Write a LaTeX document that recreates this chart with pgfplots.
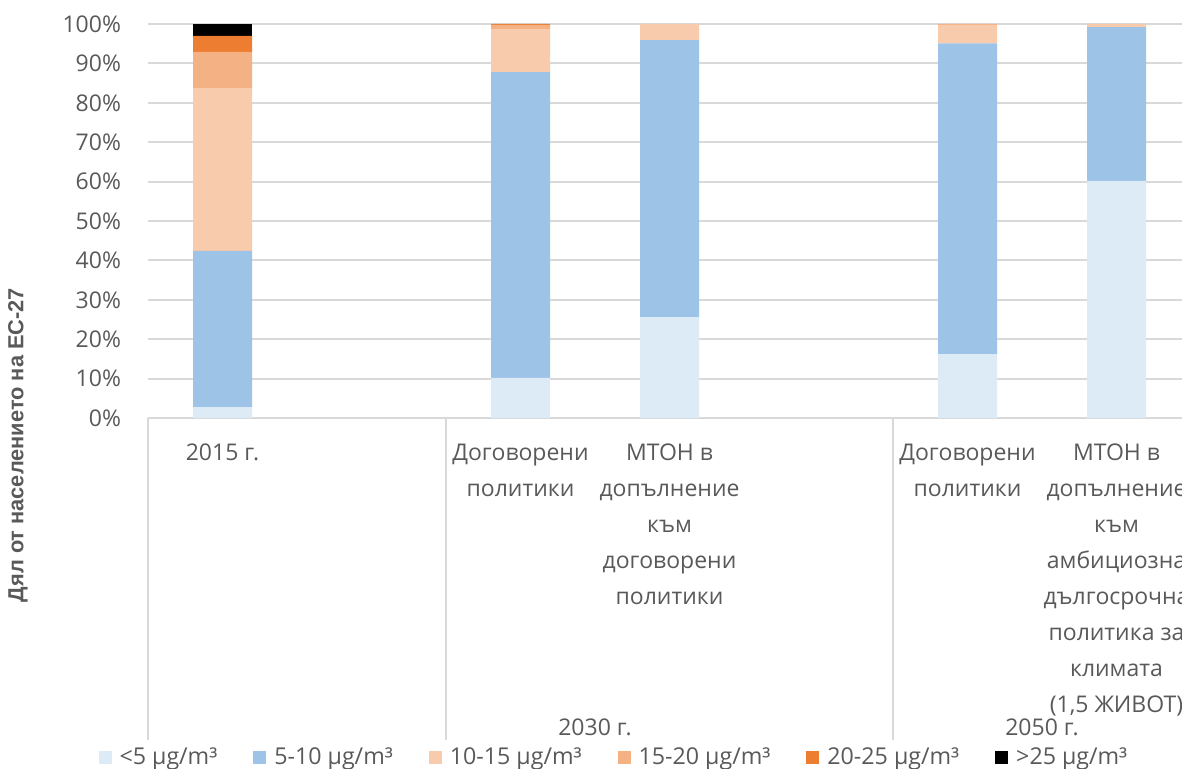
\documentclass[border=0pt]{standalone}
\usepackage{pgfplots}
\pgfplotsset{compat=1.18}
\usepackage{fontspec}
\setmainfont{Open Sans}
\newfontfamily\labfont{Liberation Sans}
\definecolor{cA}{HTML}{DDEBF7}
\definecolor{cB}{HTML}{9DC3E6}
\definecolor{cC}{HTML}{F8CBAD}
\definecolor{cD}{HTML}{F4B183}
\definecolor{cE}{HTML}{ED7D31}
\definecolor{cF}{HTML}{000000}
\definecolor{gridc}{HTML}{D9D9D9}
\definecolor{txt}{HTML}{595959}
\begin{document}
\begin{tikzpicture}
\begin{axis}[
  at={(74pt,175.5pt)}, anchor=south west,
  scale only axis, width=521.5pt, height=197pt,
  xmin=-0.5, xmax=6.5, ymin=0, ymax=100,
  ybar stacked, bar width=29.5pt,
  clip=false,
  axis x line*=bottom, axis y line*=left,
  y axis line style={draw=none},
  x axis line style={draw=gridc, line width=1pt, -},
  ymajorgrids, grid style={draw=gridc, line width=1pt},
  ytick={0,10,...,100},
  yticklabel={\pgfmathprintnumber{\tick}\%},
  /pgf/number format/assume math mode=true,
  yticklabel style={font=\fontsize{11.5}{13}\selectfont, text=txt, xshift=-10pt},
  xtick={0,2,3,5,6},
  xticklabels={{2015 г.},{Договорени\\политики},{МТОН в\\допълнение\\към\\договорени\\политики},{Договорени\\политики},{МТОН в\\допълнение\\към\\амбициозна\\дългосрочна\\политика за\\климата\\(1,5 ЖИВОТ)}},
  xticklabel style={font=\fontsize{11.5}{18}\selectfont, text=txt, align=center, anchor=north, yshift=-9.5pt},
  tick style={draw=none}, major tick length=0pt,
  legend columns=6,
  legend style={draw=none, at={(0.4477,-0.862)}, anchor=center,
    font=\fontsize{11.6}{13}\selectfont, text=txt,
    /tikz/every odd column/.append style={column sep=2pt},
    /tikz/every even column/.append style={column sep=16pt}},
  legend image code/.code={\fill[#1] (0pt,-3.25pt) rectangle (6.5pt,3.25pt);},
]
\addplot[fill=cA, draw=none] coordinates {(0,2.7) (2,10.2) (3,25.6) (5,16.2) (6,60.2)};
\addplot[fill=cB, draw=none] coordinates {(0,39.7) (2,77.6) (3,70.3) (5,78.9) (6,39.0)};
\addplot[fill=cC, draw=none] coordinates {(0,41.4) (2,10.9) (3,4.1) (5,4.7) (6,0.8)};
\addplot[fill=cD, draw=none] coordinates {(0,9.1) (2,1.1) (3,0) (5,0.2) (6,0)};
\addplot[fill=cE, draw=none] coordinates {(0,4.1) (2,0.2) (3,0) (5,0) (6,0)};
\addplot[fill=cF, draw=none] coordinates {(0,3.0) (2,0) (3,0) (5,0) (6,0)};
\legend{<5 µg/m³, 5-10 µg/m³, 10-15 µg/m³, 15-20 µg/m³, 20-25 µg/m³, >25 µg/m³}
\draw[gridc, line width=1pt] (axis cs:-0.5,0) -- (axis cs:-0.5,-83);
\draw[gridc, line width=1pt] (axis cs:1.5,0) -- (axis cs:1.5,-83);
\draw[gridc, line width=1pt] (axis cs:4.5,0) -- (axis cs:4.5,-83);
\node[font=\fontsize{11.5}{13}\selectfont, text=txt] at (axis cs:2.5,-78.4) {2030 г.};
\node[font=\fontsize{11.5}{13}\selectfont, text=txt] at (axis cs:5.5,-78.4) {2050 г.};
\node[rotate=90, font=\labfont\bfseries\fontsize{10.9}{12}\selectfont, text=txt] at (axis description cs:-0.1246,-0.0685) {Дял от населението на ЕС-27};
\end{axis}
\pgfresetboundingbox
\path[use as bounding box] (0,0) rectangle (591pt,384.5pt);
\end{tikzpicture}
\end{document}
